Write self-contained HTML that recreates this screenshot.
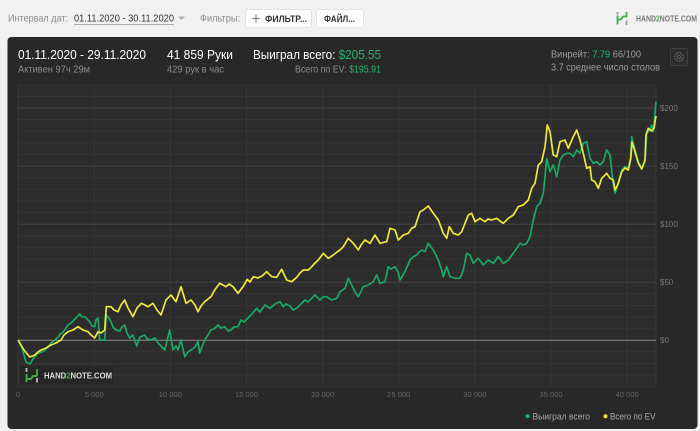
<!DOCTYPE html>
<html><head><meta charset="utf-8">
<style>
html,body{margin:0;padding:0;background:#f1f1f1;}
body{width:700px;height:431px;overflow:hidden;}
svg{display:block;font-family:"Liberation Sans","DejaVu Sans",sans-serif;}
</style></head>
<body>
<svg width="700" height="431" viewBox="0 0 700 431" xmlns="http://www.w3.org/2000/svg">
<rect x="0" y="0" width="700" height="431" fill="#f1f1f1"/>

<!-- top bar -->
<text x="8" y="21.5" font-size="10.5" fill="#8c8c8c" textLength="60" lengthAdjust="spacingAndGlyphs">Интервал дат:</text>
<text x="74" y="21.5" font-size="10.5" fill="#333" textLength="100" lengthAdjust="spacingAndGlyphs">01.11.2020 - 30.11.2020</text>
<line x1="74" y1="24.5" x2="174" y2="24.5" stroke="#aaa" stroke-width="1"/>
<path d="M178 16.5 L185 16.5 L181.5 20 Z" fill="#b0b0b0"/>
<text x="200" y="21.5" font-size="10.5" fill="#8c8c8c" textLength="40" lengthAdjust="spacingAndGlyphs">Фильтры:</text>

<rect x="245.5" y="9.5" width="66" height="18" rx="2" fill="#fff" stroke="#e2e2e2"/>
<line x1="252" y1="18.5" x2="260" y2="18.5" stroke="#888" stroke-width="1.2"/>
<line x1="256" y1="14.5" x2="256" y2="22.5" stroke="#888" stroke-width="1.2"/>
<text x="265" y="22" font-size="9.5" fill="#333" font-weight="bold" textLength="42" lengthAdjust="spacingAndGlyphs">ФИЛЬТР...</text>
<rect x="316.5" y="9.5" width="47" height="18" rx="2" fill="#fff" stroke="#e2e2e2"/>
<text x="324" y="22" font-size="9.5" fill="#333" font-weight="bold" textLength="31" lengthAdjust="spacingAndGlyphs">ФАЙЛ...</text>

<!-- top logo -->
<g stroke-width="1.8" fill="none">
<line x1="617.5" y1="12" x2="617.5" y2="14.5" stroke="#999"/>
<line x1="617.5" y1="15.5" x2="617.5" y2="24.5" stroke="#3cb54a"/>
<path d="M617.5 19.5 L621 19.5 L623 16.5 L626.5 16.5" stroke="#3cb54a"/>
<line x1="626.5" y1="12" x2="626.5" y2="17" stroke="#3cb54a"/>
<line x1="626.5" y1="20.5" x2="626.5" y2="25" stroke="#999"/>
</g>
<text x="636" y="21.5" font-size="8.5" font-weight="bold" fill="#777" textLength="61" lengthAdjust="spacingAndGlyphs">HAND<tspan fill="#3cb54a">2</tspan>NOTE.COM</text>

<!-- card -->
<rect x="7.5" y="37" width="690" height="392" rx="4" fill="#282828"/>

<text x="18" y="59" font-size="12.5" fill="#fff" textLength="128" lengthAdjust="spacingAndGlyphs">01.11.2020 - 29.11.2020</text>
<text x="18" y="72.5" font-size="9.8" fill="#8a8a8a" textLength="72" lengthAdjust="spacingAndGlyphs">Активен 97ч 29м</text>
<text x="167" y="59" font-size="12.5" fill="#fff" textLength="66" lengthAdjust="spacingAndGlyphs">41 859 Руки</text>
<text x="167" y="72.5" font-size="9.8" fill="#8a8a8a" textLength="57" lengthAdjust="spacingAndGlyphs">429 рук в час</text>
<text x="253" y="59" font-size="12.5" fill="#fff" textLength="128" lengthAdjust="spacingAndGlyphs">Выиграл всего: <tspan fill="#22b56c">$205.55</tspan></text>
<text x="295" y="72.5" font-size="9.8" fill="#8a8a8a" textLength="86" lengthAdjust="spacingAndGlyphs">Всего по EV: <tspan fill="#22b56c">$195.91</tspan></text>
<text x="551" y="57.5" font-size="10.5" fill="#9c9c9c" textLength="90" lengthAdjust="spacingAndGlyphs">Винрейт: <tspan fill="#22b56c">7.79</tspan> 66/100</text>
<text x="551" y="70.5" font-size="10.5" fill="#9c9c9c" textLength="109" lengthAdjust="spacingAndGlyphs">3.7 среднее число столов</text>

<!-- settings -->
<rect x="670.5" y="48.5" width="17" height="17" rx="2" fill="#2c2c2c" stroke="#3e3e3e"/>
<circle cx="679" cy="57" r="4.2" fill="none" stroke="#5e5e5e" stroke-width="1.4" stroke-dasharray="1.6 1"/>
<circle cx="679" cy="57" r="1.6" fill="none" stroke="#5e5e5e" stroke-width="1"/>

<!-- plot area -->
<rect x="18" y="85" width="638" height="302" fill="#2c2c2c"/>
<g stroke="#353535" stroke-width="1">
<line x1="18" x2="656" y1="85" y2="85"/>
<line x1="18" x2="656" y1="96.4" y2="96.4"/>
<line x1="18" x2="656" y1="119.6" y2="119.6"/>
<line x1="18" x2="656" y1="131.2" y2="131.2"/>
<line x1="18" x2="656" y1="142.9" y2="142.9"/>
<line x1="18" x2="656" y1="154.5" y2="154.5"/>
<line x1="18" x2="656" y1="177.7" y2="177.7"/>
<line x1="18" x2="656" y1="189.3" y2="189.3"/>
<line x1="18" x2="656" y1="200.9" y2="200.9"/>
<line x1="18" x2="656" y1="212.5" y2="212.5"/>
<line x1="18" x2="656" y1="235.8" y2="235.8"/>
<line x1="18" x2="656" y1="247.4" y2="247.4"/>
<line x1="18" x2="656" y1="259" y2="259"/>
<line x1="18" x2="656" y1="270.6" y2="270.6"/>
<line x1="18" x2="656" y1="293.8" y2="293.8"/>
<line x1="18" x2="656" y1="305.5" y2="305.5"/>
<line x1="18" x2="656" y1="317.1" y2="317.1"/>
<line x1="18" x2="656" y1="328.7" y2="328.7"/>
<line x1="18" x2="656" y1="351.9" y2="351.9"/>
<line x1="18" x2="656" y1="363.5" y2="363.5"/>
<line x1="18" x2="656" y1="375.1" y2="375.1"/>
<line x1="18" x2="656" y1="386.8" y2="386.8"/>
</g>
<g stroke="#383838" stroke-width="1">
<line x1="18" x2="18" y1="85" y2="387"/>
<line x1="94.2" x2="94.2" y1="85" y2="387"/>
<line x1="170.3" x2="170.3" y1="85" y2="387"/>
<line x1="246.5" x2="246.5" y1="85" y2="387"/>
<line x1="322.6" x2="322.6" y1="85" y2="387"/>
<line x1="398.8" x2="398.8" y1="85" y2="387"/>
<line x1="474.9" x2="474.9" y1="85" y2="387"/>
<line x1="551" x2="551" y1="85" y2="387"/>
<line x1="627.2" x2="627.2" y1="85" y2="387"/>
<line x1="656" x2="656" y1="85" y2="387"/>
</g>
<g stroke="#444" stroke-width="1">
<line x1="18" x2="656" y1="108" y2="108"/>
<line x1="18" x2="656" y1="166.1" y2="166.1"/>
<line x1="18" x2="656" y1="224.2" y2="224.2"/>
<line x1="18" x2="656" y1="282.2" y2="282.2"/>
</g>
<line x1="18" x2="656" y1="340.3" y2="340.3" stroke="#8a8a8a" stroke-width="1"/>

<!-- y labels -->
<g font-size="8" fill="#777">
<text x="660" y="110.8">$200</text>
<text x="660" y="168.9">$150</text>
<text x="660" y="227">$100</text>
<text x="660" y="285">$50</text>
<text x="660" y="343.1">$0</text>
</g>
<!-- x labels -->
<g font-size="7.6" fill="#666" text-anchor="middle">
<text x="18" y="397">0</text>
<text x="94.2" y="397">5 000</text>
<text x="170.3" y="397">10 000</text>
<text x="246.5" y="397">15 000</text>
<text x="322.6" y="397">20 000</text>
<text x="398.8" y="397">25 000</text>
<text x="474.9" y="397">30 000</text>
<text x="551" y="397">35 000</text>
<text x="627.2" y="397">40 000</text>
</g>

<!-- series: green (won) -->
<polyline fill="none" stroke="#19a866" stroke-width="1.7" stroke-linejoin="round" points="18,340 22,348 26,362 30,364 33,359 35,356 38,353 42,352 45,350 48,347 51,343 55,340 58,337 60,334 62,333 64.7,330 68,325 71,323 74,320 76,318 79.7,314 82,317 84.7,316.7 87,319 89.7,321.7 92,326 94.7,326.7 96,320 98,318 99.7,340 104.7,340 106.3,315 109,318 111,321.7 113,327 116,330 120,331 122,327 124.7,325 127,333 129.7,338 133,335 136.7,346 140,337 144.7,335 147,339 151,340 155,338 158,343 161,346 164.7,350 167,341 169.7,330 173,350 176,346 178,350 181,340 184.7,356.7 188,352 191,350 195,347 198,341.7 199.7,353 202,347 204.7,340 208,335 211,330 214,329 218,325 221,328 224.7,326.7 228,331 231,330 234,327 238,326.7 241,320 244,322 248,318 252,314 256.7,308.3 260,312 265,305 270,308.3 275,304 280,301.7 283.3,306.7 286,304 290,306 293,310 296.7,308.3 300,305 305,300 308,302 311.7,298.3 315,295 320,300 323,297 326.7,296.7 331.7,300 336.7,298.3 340,291.7 345,288.3 348.3,278.3 351.7,285 355,292 358.3,296.7 363.3,286.7 368.3,285 373.3,281.7 376.7,275 380,283.3 385,281.7 388.3,266.7 391,269 395,266.7 398,272 400,280 405,271.7 410,260 413.3,256.7 416.7,255 419,252 421.7,250 425,251.7 428.3,243.3 433.3,250 438.3,260 441,268 443.3,276.7 446.7,266.7 450,276.7 455,278.3 460,278.3 463.3,270 466.7,253.3 470,255 473.3,263.3 478.3,258.3 483.3,265 488.3,260 493.3,263.3 498.3,256.7 503.3,263.3 508.3,260 513.3,253.3 517,248 520,243.3 523,245 526.7,243.3 530,236.7 533.3,220 536.7,206.7 540,203.3 543.3,193.3 545,176.7 546.7,158.3 550,171.7 553.3,165 556.7,176.7 560,160 563.3,155 566.7,153.3 570,153.3 573.3,156.7 576.7,150 580,153.3 583.3,143.3 586.7,141.7 590,158.3 593.3,163.3 596.7,161.7 600,165 603.3,161.7 606.7,150 610,155 612.7,180 615,193.3 618.3,183.3 621.7,170 625,166.7 628.3,168.3 630.7,156.7 631.7,136.7 635,150 638.3,161.7 641.7,168.3 645,161.7 646.7,133.3 650,130 651.7,125 653.3,131.7 655,113.3 656,101.7"/>

<!-- series: yellow (EV) -->
<polyline fill="none" stroke="#efe83a" stroke-width="1.7" stroke-linejoin="round" points="18,340 24,350 29.7,357 35,355 38,352 41,350 46,348 51,345 56,343 61,340 64,335 68,331.7 73,330 78,326.7 83,330 88,331.7 91,335 94.7,338 98,331.7 101,333 104.7,330 106.3,306.7 111,306.7 114,310 118,311.7 121,305 124.7,300 128,308 133,316.7 137,308 141.3,303.3 145,305 148,306.7 153,303.3 157,310 161,315 166,300 171,295 176,301.7 181,286.7 186,303.3 191,300 195,305 198,311.7 201,306 204.7,301.7 208,299 211,296.7 214.7,290 219.7,283.3 226,286.7 229,284 233,286.7 238,293.3 243,286.7 247.3,279.3 250,282 253.3,276.7 258,278 262,276 266.7,271.7 271.7,276.7 276.7,277.3 281.7,269.3 286.7,280 291.7,281.7 296.7,277.3 300,273 303.3,270 308.3,270 311.7,266.7 315,263 318.3,260 323.3,253.3 328.3,258.3 333.3,255 337,252 340,250 343.3,246.7 348.3,238.3 353.3,243.3 358.3,250 361,245 365,240 370,243.3 375,235 380,243.3 386.7,241.7 390,228.3 395,230 398.3,240 403.3,235 408.3,233.3 411.7,228.3 415,226.7 420,211.7 423.3,210 428.3,206 433.3,213.3 438.3,220 443.3,233.3 446.7,238.3 449.3,226.7 453.3,233.3 458.3,235 461.7,231.7 465,223.3 468.3,215 471.7,213.3 475,221.7 480,218.3 485,221.7 488,219 491.7,220 496.7,218.3 500,221 503.3,223.3 508.3,218.3 513.3,215 518.3,206.7 523.3,205 528.3,200 531.7,188.3 535,183.3 538.3,165 541.7,161.7 545,146.7 547.3,125 550,131.7 553.3,155 556.7,156.7 560,141.7 565,140 568.3,148.3 573.3,136.7 576.7,130 580,140 583.3,153.3 586.7,168.3 590,166.7 591.7,180 595,181.7 598.3,188.3 601.7,178.3 606.7,173.3 610,178.3 613.3,180 615,190 618,184 621.7,172 625,168 628.3,170 630.7,159 632,142 635,152 638.3,163 641.7,169 645,160 646,135 648.3,128.3 651.7,131 654,128.3 655,122 656,116"/>

<!-- in-chart logo -->
<rect x="20" y="366" width="93" height="18" fill="#262626"/>
<g stroke-width="1.8" fill="none">
<line x1="26.5" y1="368" x2="26.5" y2="372" stroke="#bbb"/>
<line x1="26.5" y1="374" x2="26.5" y2="382" stroke="#3cb54a"/>
<path d="M26.5 379 L31 379 L33 376 L37 376" stroke="#3cb54a"/>
<line x1="37" y1="369" x2="37" y2="376" stroke="#3cb54a"/>
<line x1="37" y1="378" x2="37" y2="382.5" stroke="#bbb"/>
</g>
<text x="44" y="378.5" font-size="8.5" font-weight="bold" fill="#ddd" textLength="68" lengthAdjust="spacingAndGlyphs">HAND<tspan fill="#3cb54a">2</tspan>NOTE.COM</text>

<!-- legend -->
<circle cx="527.5" cy="416.3" r="2" fill="#19b36b"/>
<text x="532.5" y="419.3" font-size="9" fill="#a8a8a8" textLength="57.5" lengthAdjust="spacingAndGlyphs">Выиграл всего</text>
<circle cx="605.5" cy="416.3" r="2" fill="#efe83a"/>
<text x="610" y="419.3" font-size="9" fill="#a8a8a8" textLength="45.5" lengthAdjust="spacingAndGlyphs">Всего по EV</text>
</svg>
</body></html>
